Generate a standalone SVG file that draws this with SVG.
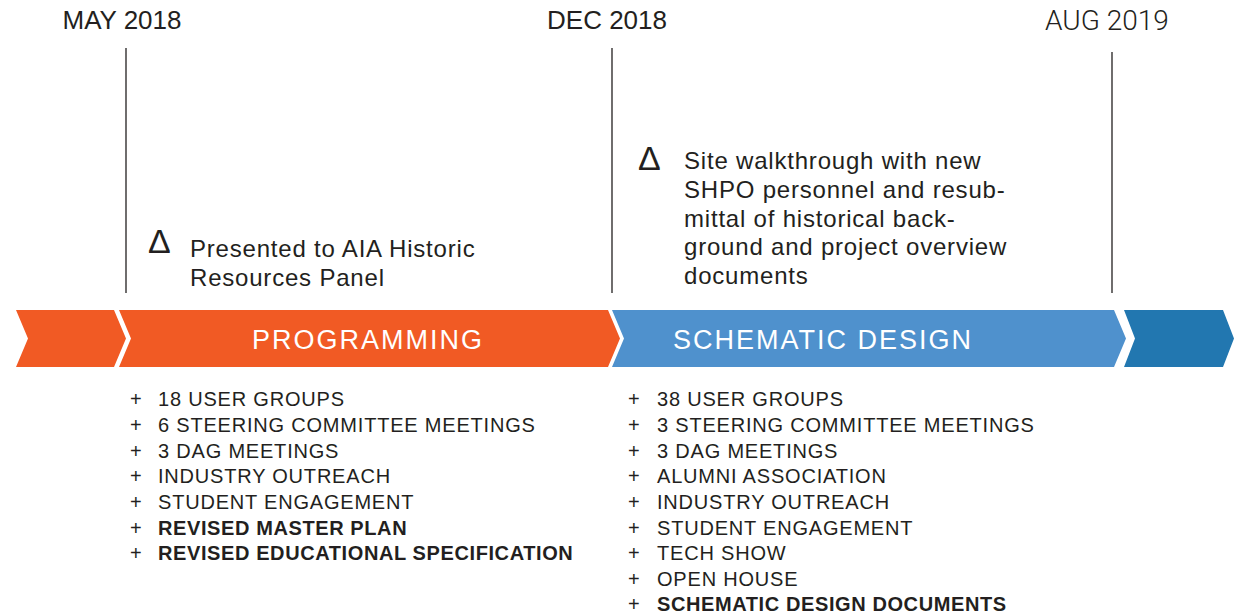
<svg xmlns="http://www.w3.org/2000/svg" width="1234" height="613" viewBox="0 0 1234 613">
<style>
text{font-family:"Liberation Sans",Arial,sans-serif;fill:#231f20}
.date{font-size:26px}
.note{font-size:24px;letter-spacing:0.8px}
.delta{font-size:34px}
.item{font-size:20px;letter-spacing:0.8px}
.plus{font-size:20px}
.b{font-weight:bold;letter-spacing:0.6px}
.phase{font-size:27px;fill:#fff;letter-spacing:2px}
.vl{stroke:#231f20;stroke-width:1.3}
</style>
<rect width="1234" height="613" fill="#fff"/>
<g id="timeline-lines">
<line class="vl" x1="126" y1="48" x2="126" y2="293"/>
<line class="vl" x1="612" y1="48" x2="612" y2="293"/>
<line class="vl" x1="1112" y1="52" x2="1112" y2="293"/>
</g>
<g id="dates">
<text class="date" x="122" y="29" text-anchor="middle">MAY 2018</text>
<text class="date" x="607" y="29" text-anchor="middle">DEC 2018</text>
<text class="date" x="1107" y="30" text-anchor="middle" style="font-family:Roboto,'Liberation Sans',sans-serif;font-weight:300;font-size:28px">AUG 2019</text>
</g>
<g id="band">
<polygon points="16,310 114,310 126,338.5 114,367 16,367 28,338.5" fill="#f15a24"/>
<polygon id="programming" points="119,310 608,310 620,338.5 608,367 119,367 131,338.5" fill="#f15a24"/>
<polygon id="schematic" points="612,310 1114,310 1126,338.5 1114,367 612,367 624,338.5" fill="#4f91cd"/>
<polygon points="1124,310 1223,310 1234,338.5 1223,367 1124,367 1135,338.5" fill="#2277b0"/>
<text class="phase" x="368" y="349" text-anchor="middle">PROGRAMMING</text>
<text class="phase" x="823" y="349" text-anchor="middle">SCHEMATIC DESIGN</text>
</g>
<g id="note-may">
<text class="delta" x="148" y="253">Δ</text>
<text class="note" x="190" y="257">Presented to AIA Historic</text>
<text class="note" x="190" y="286">Resources Panel</text>
</g>
<g id="note-dec">
<text class="delta" x="638" y="170">Δ</text>
<text class="note" x="684" y="169">Site walkthrough with new</text>
<text class="note" x="684" y="198">SHPO personnel and resub-</text>
<text class="note" x="684" y="227">mittal of historical back-</text>
<text class="note" x="684" y="255">ground and project overview</text>
<text class="note" x="684" y="284">documents</text>
</g>
<g id="list-programming">
<text class="plus" x="130" y="406">+</text><text class="item" x="158" y="406">18 USER GROUPS</text>
<text class="plus" x="130" y="432">+</text><text class="item" x="158" y="432">6 STEERING COMMITTEE MEETINGS</text>
<text class="plus" x="130" y="458">+</text><text class="item" x="158" y="458">3 DAG MEETINGS</text>
<text class="plus" x="130" y="483">+</text><text class="item" x="158" y="483">INDUSTRY OUTREACH</text>
<text class="plus" x="130" y="509">+</text><text class="item" x="158" y="509">STUDENT ENGAGEMENT</text>
<text class="plus" x="130" y="535">+</text><text class="item b" x="158" y="535">REVISED MASTER PLAN</text>
<text class="plus" x="130" y="560">+</text><text class="item b" x="158" y="560">REVISED EDUCATIONAL SPECIFICATION</text>
</g>
<g id="list-schematic">
<text class="plus" x="628" y="406">+</text><text class="item" x="657" y="406">38 USER GROUPS</text>
<text class="plus" x="628" y="432">+</text><text class="item" x="657" y="432">3 STEERING COMMITTEE MEETINGS</text>
<text class="plus" x="628" y="458">+</text><text class="item" x="657" y="458">3 DAG MEETINGS</text>
<text class="plus" x="628" y="483">+</text><text class="item" x="657" y="483">ALUMNI ASSOCIATION</text>
<text class="plus" x="628" y="509">+</text><text class="item" x="657" y="509">INDUSTRY OUTREACH</text>
<text class="plus" x="628" y="535">+</text><text class="item" x="657" y="535">STUDENT ENGAGEMENT</text>
<text class="plus" x="628" y="560">+</text><text class="item" x="657" y="560">TECH SHOW</text>
<text class="plus" x="628" y="586">+</text><text class="item" x="657" y="586">OPEN HOUSE</text>
<text class="plus" x="628" y="611">+</text><text class="item b" x="657" y="611">SCHEMATIC DESIGN DOCUMENTS</text>
</g>
</svg>
